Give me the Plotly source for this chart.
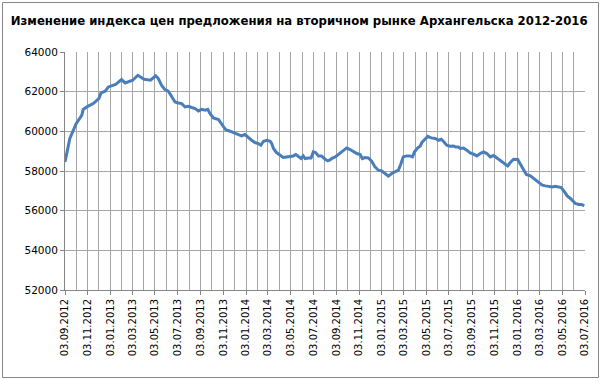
import plotly.graph_objects as go

dates = [
    "2012-09-03", "2012-09-16", "2012-10-03", "2012-10-18", "2012-10-22", "2012-11-03", "2012-11-18",
    "2012-12-03", "2012-12-09", "2012-12-20", "2012-12-29", "2013-01-03", "2013-01-17", "2013-02-02",
    "2013-02-12", "2013-03-04", "2013-03-18", "2013-04-04", "2013-04-21", "2013-05-05", "2013-05-12",
    "2013-05-21", "2013-05-30", "2013-06-08", "2013-06-17", "2013-06-26", "2013-07-05", "2013-07-14",
    "2013-07-23", "2013-08-01", "2013-08-10", "2013-08-19", "2013-08-28", "2013-09-06", "2013-09-15",
    "2013-09-22", "2013-09-28", "2013-10-07", "2013-10-21", "2013-10-29", "2013-11-09", "2013-11-21",
    "2013-12-03", "2013-12-13", "2013-12-22", "2013-12-31", "2014-01-09", "2014-01-18", "2014-01-27",
    "2014-02-05", "2014-02-12", "2014-02-19", "2014-02-28", "2014-03-09", "2014-03-13", "2014-03-18",
    "2014-03-26", "2014-04-05", "2014-04-13", "2014-04-22", "2014-05-01", "2014-05-10", "2014-05-17",
    "2014-05-24", "2014-05-31", "2014-06-06", "2014-06-11", "2014-06-20", "2014-06-27", "2014-07-03",
    "2014-07-09", "2014-07-17", "2014-07-25", "2014-08-04", "2014-08-11", "2014-08-18", "2014-08-21",
    "2014-08-31", "2014-09-08", "2014-09-17", "2014-10-01", "2014-10-10", "2014-10-19", "2014-10-28",
    "2014-11-06", "2014-11-12", "2014-11-19", "2014-11-28", "2014-12-07", "2014-12-16", "2014-12-25",
    "2015-01-03", "2015-01-12", "2015-01-21", "2015-01-30", "2015-02-08", "2015-02-17", "2015-02-24",
    "2015-03-02", "2015-03-11", "2015-03-20", "2015-03-27", "2015-04-01", "2015-04-10", "2015-04-17",
    "2015-04-21", "2015-04-30", "2015-05-07", "2015-05-16", "2015-05-27", "2015-06-05", "2015-06-12",
    "2015-06-18", "2015-06-27", "2015-07-06", "2015-07-15", "2015-07-21", "2015-07-28", "2015-08-02",
    "2015-08-11", "2015-08-20", "2015-08-29", "2015-09-07", "2015-09-16", "2015-09-25", "2015-10-04",
    "2015-10-13", "2015-10-22", "2015-10-31", "2015-11-09", "2015-11-22", "2015-12-03", "2015-12-08",
    "2015-12-15", "2015-12-24", "2016-01-04", "2016-01-11", "2016-01-20", "2016-01-27", "2016-02-07",
    "2016-02-16", "2016-02-25", "2016-03-03", "2016-03-10", "2016-03-19", "2016-03-27", "2016-04-06",
    "2016-04-14", "2016-04-23", "2016-04-30", "2016-05-09", "2016-05-16", "2016-05-25", "2016-06-01",
    "2016-06-07", "2016-06-16", "2016-06-24", "2016-07-01",
]

index_values = [
    58460, 59640, 60390, 60810, 61100, 61260, 61400,
    61650, 61940, 62020, 62240, 62270, 62360, 62610,
    62440, 62575, 62826, 62625, 62575, 62800, 62660,
    62320, 62105, 62020, 61733, 61480, 61430, 61400,
    61230, 61260, 61200, 61150, 61030, 61110, 61070,
    61110, 60900, 60675, 60595, 60390, 60090, 60005,
    59920, 59830, 59770, 59837, 59670, 59550, 59435,
    59385, 59300, 59500, 59550, 59500, 59385, 59134,
    58930, 58800, 58680, 58710, 58746, 58760, 58830,
    58710, 58630, 58760, 58630, 58660, 58660, 58962,
    58930, 58760, 58760, 58594, 58510, 58570, 58630,
    58710, 58830, 58962, 59164, 59080, 58962, 58880,
    58830, 58630, 58680, 58660, 58495, 58207, 58040,
    58010, 57873, 57740, 57873, 57955, 58040, 58378,
    58710, 58760, 58760, 58710, 58962, 59164, 59264,
    59435, 59637, 59753, 59670, 59637, 59551, 59600,
    59500, 59300, 59250, 59265, 59214, 59214, 59134,
    59160, 59050, 58912, 58846, 58760, 58880, 58962,
    58880, 58710, 58780, 58660, 58495, 58328, 58257,
    58430, 58594, 58580, 58327, 58040, 57823, 57753,
    57622, 57486, 57370, 57284, 57250, 57235, 57200,
    57235, 57200, 57165, 56947, 56745, 56614, 56478,
    56362, 56310, 56310, 56242,
]

title_text = "Изменение индекса цен предложения на вторичном рынке Архангельска 2012-2016"
x_start = "2012-09-03"
x_end = "2016-07-03"
y_min, y_max, y_step = 52000, 64000, 2000

fig = go.Figure()
fig.add_trace(go.Scatter(
    x=dates, y=index_values, mode="lines",
    line=dict(color="#4A7EBB", width=3), hoverinfo="x+y",
))

grid_color = "#A6A6A6"
axis_color = "#868686"
fig.update_layout(
    width=602, height=379,
    margin=dict(l=65, r=17, t=52, b=89),
    paper_bgcolor="white", plot_bgcolor="white",
    showlegend=False,
    title=dict(
        text=title_text,
        font=dict(family="DejaVu Sans Condensed, Arial Narrow, sans-serif", size=13, color="black",
                  weight="bold"),
        x=0.497, xanchor="center", xref="container",
        y=1 - 20 / 379, yanchor="middle",
    ),
    xaxis=dict(
        type="date",
        range=[x_start, x_end],
        tick0=x_start, dtick="M2",
        tickformat="%d.%m.%Y",
        tickangle=-90,
        tickfont=dict(family="DejaVu Sans, Verdana, sans-serif", size=10, color="black"),
        ticks="outside", ticklen=4, tickcolor=axis_color,
        showgrid=True, gridcolor=grid_color, gridwidth=1,
        minor=dict(tick0=x_start, dtick="M1", showgrid=True, gridcolor=grid_color, gridwidth=1),
        showline=True, linecolor=axis_color, linewidth=1,
        zeroline=False, automargin=False,
    ),
    yaxis=dict(
        range=[y_min, y_max],
        tick0=y_min, dtick=y_step,
        tickformat="d",
        tickfont=dict(family="DejaVu Sans, Verdana, sans-serif", size=10.5, color="black"),
        ticks="outside", ticklen=4, tickcolor=axis_color,
        showgrid=True, gridcolor=grid_color, gridwidth=1,
        showline=True, linecolor=axis_color, linewidth=1,
        zeroline=False, automargin=False,
    ),
)

# outer chart border
fig.add_shape(
    type="rect", xref="paper", yref="paper",
    x0=(2.5 - 65) / 520, x1=(598.5 - 65) / 520,
    y0=(290 - 377.5) / 238, y1=(290 - 2.5) / 238,
    line=dict(color=axis_color, width=1), fillcolor="rgba(0,0,0,0)", layer="above",
)

fig.write_html(
    "out.html",
    config={"displayModeBar": False},
    post_script="document.body.style.margin='0';document.body.style.padding='0';",
)
